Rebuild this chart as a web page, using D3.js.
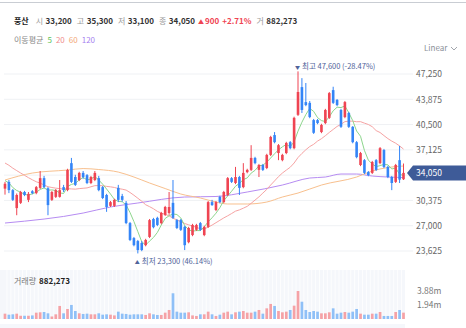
<!DOCTYPE html>
<html><head><meta charset="utf-8">
<script src="https://cdn.jsdelivr.net/npm/d3@7"></script>
<style>
html,body{margin:0;padding:0;background:#fff;}
svg{display:block;font-family:"Noto Sans CJK KR","Noto Sans",sans-serif;}
</style></head><body>
<svg id="c" width="466" height="328"></svg>
<script>
const stockName = "풍산";
const opens  = [31950,32850,31750,29350,30050,31500,30450,31600,31350,32050,33350,32000,30450,30850,30850,32150,31750,35350,33500,33100,34050,33750,32700,33100,33350,32150,31100,29650,29650,32050,30950,30050,27350,25350,24950,24700,24400,25500,27900,28050,27350,28450,28700,30050,27750,27750,26850,24800,25750,26450,27350,25750,26850,30150,29100,30850,30150,31100,33350,32700,33500,32150,34150,34450,36050,34450,35100,34700,36450,39100,36700,35750,36700,38150,37350,41800,45500,43500,43400,41100,41100,39500,40700,41400,45100,43800,42450,41500,42050,40200,38150,35100,35750,34150,34050,35750,35350,37100,34850,33500,32850,35750,33200];
const highs  = [32850,33100,31900,31300,31650,31650,31500,31750,32300,34300,33650,32150,31650,31900,33100,32450,34600,36050,33800,34200,34300,33900,33650,34300,33650,32300,31250,30300,30600,32450,31250,30300,27500,25500,25100,24950,25250,27900,28050,28200,28850,29650,31500,33100,27900,27900,27000,26850,27250,27250,27500,27000,30300,30450,30300,31000,31650,33500,33500,34850,33650,35350,34600,37750,36200,35250,35250,36600,39000,39500,37900,36600,38200,38300,41550,47600,46700,46050,43650,41250,41250,40600,42600,44850,45550,43900,42600,43650,42200,40300,38300,36850,35900,34300,35650,35900,37500,37250,35000,33650,35250,37650,35300];
const lows   = [31150,31350,30300,28400,29900,30950,30150,31200,31200,31900,32000,28400,30300,30700,30750,31500,31600,32700,32300,32950,33250,32550,32550,32950,31600,30550,28850,29500,29500,30150,30200,27200,24950,24250,23300,23600,24250,25350,26650,26950,27200,28300,28450,27900,26550,26300,23750,24650,25600,26300,26300,25600,26700,29650,28950,30000,30000,30950,32700,32550,31100,32000,34000,34300,35200,33500,34300,34550,36300,38000,35750,35600,36550,37200,37200,41650,42050,42950,41350,39250,40550,39350,40550,41250,43250,42950,40050,41350,40050,38000,36000,34950,33900,33600,33900,34300,35200,34700,33350,31750,32700,32700,33100];
const closes = [32600,31750,30450,31100,31500,31100,31250,31350,32150,33350,32150,29750,31500,31750,31750,31750,34450,32850,32450,34050,33500,32700,33500,34050,31750,30700,29500,30150,30450,30450,30450,27350,25100,24400,23750,23750,25100,27750,26800,27100,28700,29500,29500,28050,26700,26450,24400,26700,27100,27100,26450,26850,30150,29750,30150,30150,31500,33350,32850,33500,32050,34050,34450,36050,35350,35100,34450,36450,38850,38150,37750,36450,38050,37350,41400,44850,42450,43100,41500,39400,40700,40450,42450,44700,43400,43100,40200,43500,40200,38150,36150,36700,34050,33750,35500,34450,37350,34850,33500,32700,35100,33150,34050];
const volumes = [740000,600000,650000,740000,450000,450000,450000,500000,880000,930000,970000,790000,350000,650000,1810000,790000,1390000,1950000,1110000,790000,700000,740000,650000,650000,790000,600000,650000,600000,500000,1020000,740000,700000,600000,650000,650000,650000,560000,790000,650000,560000,560000,880000,1250000,3570000,1020000,880000,880000,930000,500000,420000,650000,650000,1020000,650000,420000,600000,880000,1020000,650000,930000,1020000,1110000,880000,880000,1020000,1250000,740000,1480000,2090000,1810000,1110000,930000,1020000,1250000,1850000,3886000,2400000,1250000,970000,1110000,1020000,790000,790000,930000,1480000,740000,880000,970000,880000,1020000,1390000,740000,600000,600000,740000,740000,970000,420000,420000,420000,970000,1250000,882273];
// closes before the visible window (for moving-average warm-up)
const priorCloses = [37800,38200,37600,37900,37300,37500,37000,37400,36900,37350,34200,33700,33400,33100,32950,33250,33600,33050,32600];
// longer moving averages at sample candles
const ma60Index  = [0,7,16,20,24,29,33,37,41,45,50,54,57,62,67,71,75,81,90,94,98,102];
const ma60Values = [33100,34030,34430,34630,34500,34160,33500,32700,31960,31230,30700,30160,29900,29900,30160,30830,31360,32430,33500,34300,34770,34970];
const ma120Index  = [0,20,27,34,46,54,62,71,78,82,86,90,94,98,102];
const ma120Values = [27360,28690,29500,30030,30830,30900,31500,32430,33365,33500,33900,33900,33630,33500,33430];
const priceTicks = [47250,43875,40500,37125,33750,30375,27000,23625];
const maPeriods = [5,20,60,120];
const maLabel = "이동평균";
const volLabel = "거래량";
const scaleLabel = "Linear";

const UP="#ef4452", DOWN="#3485f7", UPV="#f5a2a6", DOWNV="#8fc0f7";
const maLine=["#8dd68d","#f6a3a3","#f8c08e","#b68cf2"];
const maText=["#5cc35c","#f08c8c","#f2a775","#a57ef0"];

const svg=d3.select("#c");
const n=closes.length;
const x=d3.scaleLinear().domain([0,n-1]).range([5,403.5]);
const y=d3.scaleLinear().domain([23625,47250]).range([251,74]);
const vmax=d3.max(volumes);
const yv=d3.scaleLinear().domain([0,vmax]).range([319,291]);
const fmt=d3.format(",");

// top rule
svg.append("line").attr("x1",0).attr("x2",466).attr("y1",2.5).attr("y2",2.5).attr("stroke","#c9cdd3");

// header
const last=n-1, prev=closes[last-1];
const chg=closes[last]-prev, pct=chg/prev*100;
const hdr=svg.append("text").attr("x",14).attr("y",24).attr("font-size",8);
hdr.append("tspan").attr("font-weight","bold").attr("fill","#222").text(stockName);
const parts=[["시",opens[last]],["고",highs[last]],["저",lows[last]],["종",closes[last]]];
parts.forEach((p,i)=>{
  hdr.append("tspan").attr("dx",i?5:7).attr("fill","#999").text(p[0]);
  hdr.append("tspan").attr("dx",2.5).attr("fill","#333").attr("font-weight","bold").text(fmt(p[1]));
});
hdr.append("tspan").attr("dx",3).attr("fill",UP).attr("font-size",6).text(chg>=0?"▲":"▼");
hdr.append("tspan").attr("dx",1).attr("fill",UP).attr("font-weight","bold").text(fmt(Math.abs(chg)));
hdr.append("tspan").attr("dx",3).attr("fill",UP).attr("font-weight","bold").text((pct>=0?"+":"")+pct.toFixed(2)+"%");
hdr.append("tspan").attr("dx",5).attr("fill","#999").text("거");
hdr.append("tspan").attr("dx",2.5).attr("fill","#333").attr("font-weight","bold").text(fmt(volumes[last]));

// MA legend
const leg=svg.append("text").attr("x",14).attr("y",43).attr("font-size",8);
leg.append("tspan").attr("fill","#888").text(maLabel);
maPeriods.forEach((p,i)=>leg.append("tspan").attr("dx",4).attr("fill",maText[i]).text(p));

// Linear selector
svg.append("text").attr("x",424).attr("y",51).attr("font-size",8).attr("fill","#8a8f98").text(scaleLabel);
svg.append("path").attr("d","M451,47 L454,50 L457,47").attr("fill","none").attr("stroke","#8a8f98").attr("stroke-width",0.8);

// grid + price axis (labels hidden where the current-price tag sits)
const last_c=closes[n-1];
const g=svg.append("g");
g.selectAll("line.grid").data(priceTicks).join("line").attr("class","grid")
  .attr("x1",4).attr("x2",413).attr("y1",d=>y(d)).attr("y2",d=>y(d)).attr("stroke","#eff1f4");
const labelTicks=priceTicks.filter(t=>Math.abs(y(t)-y(last_c))>10);
const ax=svg.append("g").attr("transform","translate(413,0)")
  .call(d3.axisRight(y).tickValues(labelTicks).tickFormat(fmt).tickSize(0).tickPadding(3));
ax.select(".domain").remove();
ax.selectAll("text").attr("font-size",8.5).attr("fill","#666").attr("font-family","'Noto Sans CJK KR','Noto Sans',sans-serif");

// moving averages
const all=priorCloses.concat(closes), off=priorCloses.length;
function sma(p){return closes.map((c,i)=>{const j=i+off;return j-p+1<0?null:d3.mean(all.slice(j-p+1,j+1));});}
const lineI=d3.line().defined(d=>d!=null).x((d,i)=>x(i)).y(d=>y(d));
const lineS=d3.line().x(d=>x(d[0])).y(d=>y(d[1])).curve(d3.curveMonotoneX);
svg.append("path").attr("d",lineS(d3.zip(ma120Index,ma120Values))).attr("fill","none").attr("stroke",maLine[3]).attr("stroke-width",1);
svg.append("path").attr("d",lineS(d3.zip(ma60Index,ma60Values))).attr("fill","none").attr("stroke",maLine[2]).attr("stroke-width",1);
svg.append("path").attr("d",lineI(sma(20))).attr("fill","none").attr("stroke",maLine[1]).attr("stroke-width",1);
svg.append("path").attr("d",lineI(sma(5))).attr("fill","none").attr("stroke",maLine[0]).attr("stroke-width",1);

// candles
const idx=d3.range(n);
const cg=svg.append("g");
cg.selectAll("line").data(idx).join("line")
  .attr("x1",i=>x(i)).attr("x2",i=>x(i)).attr("y1",i=>y(highs[i])).attr("y2",i=>y(lows[i]))
  .attr("stroke",i=>closes[i]>=opens[i]?UP:DOWN).attr("stroke-width",1);
cg.selectAll("rect").data(idx).join("rect")
  .attr("x",i=>x(i)-1.3).attr("width",2.6)
  .attr("y",i=>y(Math.max(opens[i],closes[i])))
  .attr("height",i=>Math.max(1,Math.abs(y(opens[i])-y(closes[i]))))
  .attr("fill",i=>closes[i]>=opens[i]?UP:DOWN);

// max / min annotations
const iMax=d3.maxIndex(highs), iMin=d3.minIndex(lows);
const c=closes[last], ANN="#50639a";
const hi=highs[iMax], lo=lows[iMin];
const tMax=svg.append("text").attr("x",x(iMax)-3).attr("y",y(hi)-2.5).attr("font-size",7.5).attr("fill",ANN);
tMax.append("tspan").attr("font-size",5).text("▼");
tMax.append("tspan").attr("dx",2).text("최고 "+fmt(hi)+" ("+((c-hi)/hi*100).toFixed(2)+"%)");
const tMin=svg.append("text").attr("x",x(iMin)-3).attr("y",y(lo)+10.5).attr("font-size",7.5).attr("fill",ANN);
tMin.append("tspan").attr("font-size",5).text("▲");
tMin.append("tspan").attr("dx",2).text("최저 "+fmt(lo)+" ("+((c-lo)/lo*100).toFixed(2)+"%)");

// current price tag
const cy=y(c);
svg.append("path").attr("d",`M407,${cy} L413,${cy-7.5} L466,${cy-7.5} L466,${cy+7.5} L413,${cy+7.5} Z`).attr("fill","#3e5b98");
svg.append("text").attr("x",416).attr("y",cy+3).attr("font-size",8.5).attr("fill","#fff").text(fmt(c));

// volume panel
const step=x(1)-x(0);
svg.append("rect").attr("x",0).attr("y",270).attr("width",405).attr("height",49).attr("fill","#f5f7fb");
svg.append("rect").attr("x",0).attr("y",324).attr("width",405).attr("height",4).attr("fill","#f5f7fb");
svg.append("g").selectAll("line").data(idx).join("line")
  .attr("x1",i=>x(i)+step/2).attr("x2",i=>x(i)+step/2).attr("y1",270).attr("y2",319)
  .attr("stroke","#ffffff").attr("stroke-width",0.8);
svg.append("g").selectAll("rect").data(idx).join("rect")
  .attr("x",i=>x(i)-1.35).attr("width",2.7)
  .attr("y",i=>yv(volumes[i])).attr("height",i=>319-yv(volumes[i]))
  .attr("fill",i=>closes[i]>=opens[i]?UPV:DOWNV);
const vl=svg.append("text").attr("x",14).attr("y",284).attr("font-size",8);
vl.append("tspan").attr("fill","#777").text(volLabel);
vl.append("tspan").attr("dx",3).attr("fill","#222").attr("font-weight","bold").text(fmt(volumes[last]));
const vax=svg.append("g").attr("transform","translate(413,0)")
  .call(d3.axisRight(yv).tickValues([vmax,vmax/2]).tickFormat(v=>(Math.floor(v/1e4)/100).toFixed(2)+"m").tickSize(0).tickPadding(4));
vax.select(".domain").remove();
vax.selectAll("text").attr("font-size",8.5).attr("fill","#777").attr("font-family","'Noto Sans CJK KR','Noto Sans',sans-serif");
</script>
</body></html>
